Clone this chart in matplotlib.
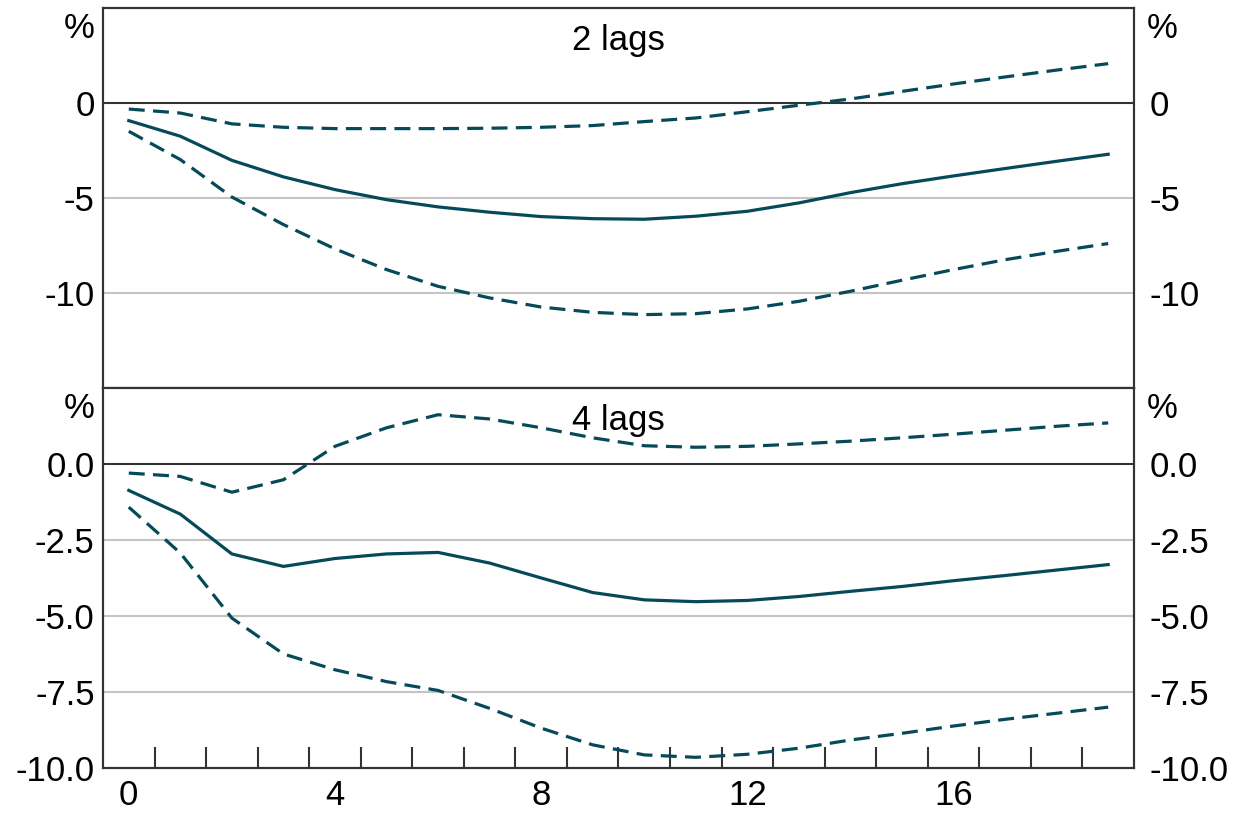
import numpy as np
import matplotlib
matplotlib.use("Agg")
from matplotlib import pyplot as plt
from matplotlib.ticker import FixedLocator, NullLocator

plt.rcParams['font.family'] = ['Liberation Sans', 'DejaVu Sans']

horizon = list(range(20))

# 2 lags
lag2_mid = [-0.93, -1.75, -3.02, -3.89, -4.56, -5.09, -5.47, -5.75, -5.98, -6.09,
            -6.12, -5.96, -5.70, -5.26, -4.72, -4.25, -3.84, -3.45, -3.07, -2.70]
lag2_hi = [-0.32, -0.53, -1.10, -1.28, -1.35, -1.35, -1.35, -1.33, -1.28, -1.19,
           -0.98, -0.79, -0.46, -0.12, 0.21, 0.61, 1.00, 1.37, 1.73, 2.07]
lag2_lo = [-1.49, -2.98, -4.95, -6.40, -7.68, -8.77, -9.65, -10.26, -10.74, -11.02,
           -11.14, -11.09, -10.84, -10.44, -9.91, -9.33, -8.77, -8.25, -7.81, -7.40]

# 4 lags
lag4_mid = [-0.87, -1.65, -2.96, -3.37, -3.11, -2.96, -2.91, -3.26, -3.75, -4.23,
            -4.47, -4.53, -4.49, -4.36, -4.19, -4.03, -3.84, -3.67, -3.49, -3.31]
lag4_hi = [-0.30, -0.41, -0.93, -0.52, 0.58, 1.19, 1.62, 1.48, 1.19, 0.86,
           0.60, 0.55, 0.58, 0.66, 0.75, 0.86, 0.98, 1.11, 1.24, 1.35]
lag4_lo = [-1.42, -2.93, -5.07, -6.25, -6.77, -7.16, -7.45, -8.04, -8.69, -9.24,
           -9.57, -9.65, -9.55, -9.35, -9.08, -8.86, -8.62, -8.40, -8.20, -8.00]

x_labels = [0, 4, 8, 12, 16]

panels = [
    ("2 lags", lag2_mid, lag2_hi, lag2_lo, (-15, 5), [-10, -5, 0], "{:.0f}"),
    ("4 lags", lag4_mid, lag4_hi, lag4_lo, (-10, 2.5), [-10, -7.5, -5, -2.5, 0], "{:.1f}"),
]

line_col = "#064a5a"
spine_col = "#333333"
fs = 25

fig = plt.figure(figsize=(12.35, 8.13), dpi=100)
boxes = [[0.0834, 0.5228, 0.8348, 0.4674], [0.0834, 0.0554, 0.8348, 0.4674]]

for box, (title, mid, hi, lo, ylim, yticks, fmt) in zip(boxes, panels):
    ax = fig.add_axes(box)
    ax.set_xlim(-0.5, 19.5)
    ax.set_ylim(*ylim)

    for y in yticks:
        if y != 0:
            ax.axhline(y, color="#c4c4c4", lw=1.5, zorder=1)
    ax.axhline(0, color=spine_col, lw=1.5, zorder=2)

    ax.plot(horizon, mid, color=line_col, lw=2.3, zorder=3)
    for band in (hi, lo):
        ax.plot(horizon, band, color=line_col, lw=2.3, dashes=(5, 2.6), zorder=3)

    ax.text(0.5, 0.915, title, transform=ax.transAxes, ha="center", va="center", fontsize=fs)

    labels = [fmt.format(v) for v in yticks]
    ax.set_yticks(yticks)
    ax.set_yticklabels(labels)
    ax.tick_params(axis="y", length=0, labelsize=fs, pad=6)

    # right-hand axis, labels sit a bit further out
    ax2 = ax.twinx()
    ax2.set_ylim(*ylim)
    ax2.set_yticks(yticks)
    ax2.set_yticklabels(labels)
    ax2.tick_params(axis="y", length=0, labelsize=fs, pad=11)

    ax.annotate("%", xy=(0, 0.947), xycoords="axes fraction", xytext=(-6, 0),
                textcoords="offset points", ha="right", va="center", fontsize=fs)
    ax.annotate("%", xy=(1, 0.947), xycoords="axes fraction", xytext=(9, 0),
                textcoords="offset points", ha="left", va="center", fontsize=fs)

    for a in (ax, ax2):
        for s in a.spines.values():
            s.set_color(spine_col)
            s.set_linewidth(1.5)

    ax.xaxis.set_major_locator(FixedLocator(x_labels))
    ax.xaxis.set_minor_locator(FixedLocator(np.arange(0.5, 19, 1.0)))
    ax.tick_params(axis="x", which="major", length=0, labelsize=fs, pad=8)
    ax.tick_params(axis="x", which="minor", direction="in", length=15, width=1.5,
                   color=spine_col)
    if title == "2 lags":
        ax.tick_params(axis="x", which="both", labelbottom=False, bottom=False)
        ax.xaxis.set_minor_locator(NullLocator())

fig.savefig("out.png", dpi=100)
